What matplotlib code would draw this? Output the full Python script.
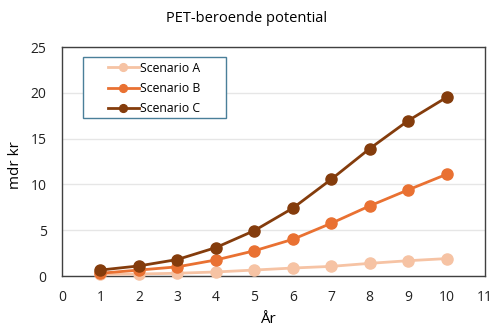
import matplotlib
matplotlib.use("Agg")
import matplotlib.pyplot as plt
from matplotlib.patches import Rectangle

plt.rcParams['font.family'] = ['Open Sans', 'DejaVu Sans']

years = [1, 2, 3, 4, 5, 6, 7, 8, 9, 10]
scenario_a = [0.18, 0.22, 0.3, 0.44, 0.65, 0.87, 1.05, 1.38, 1.67, 1.9]
scenario_b = [0.3, 0.65, 1.0, 1.75, 2.75, 4.0, 5.75, 7.65, 9.4, 11.1]
scenario_c = [0.65, 1.1, 1.8, 3.1, 4.95, 7.4, 10.55, 13.9, 16.95, 19.5]
labels = ['Scenario A', 'Scenario B', 'Scenario C']
colors = ['#F6C3A4', '#E97132', '#843C0C']

W, H = 493, 327
L, R, T, B = 62, 485, 47, 276
fig = plt.figure(figsize=(W/100, H/100), dpi=100)
ax = fig.add_axes([L/W, 1-B/H, (R-L)/W, (B-T)/H])

def ax_x(px):
    return (px - L) / (R - L)

def ax_y(py):
    return (B - py) / (B - T)

for ys, lab, col in zip([scenario_a, scenario_b, scenario_c], labels, colors):
    ax.plot(years, ys, color=col, lw=2, marker='o', ms=8, label=lab, clip_on=False, zorder=3)

ax.set_xlim(0, 11)
ax.set_ylim(0, 25)
ax.set_xticks(range(0, 12))
ax.set_yticks(range(0, 26, 5))
ax.grid(axis='y', color='#E6E6E6', lw=1)
ax.set_axisbelow(True)
for s in ax.spines.values():
    s.set_color('#404040')
    s.set_linewidth(1)
ax.tick_params(length=0, labelsize=10, colors='#222222')
ax.tick_params(axis='y', pad=11)
ax.tick_params(axis='x', pad=10)
ax.set_xlabel('År', fontsize=11)
ax.set_ylabel('mdr kr', fontsize=11)
ax.xaxis.set_label_coords(ax_x(268), ax_y(312))
ax.yaxis.set_label_coords(ax_x(23), ax_y(165))
fig.text(247/W, 1-18/H, 'PET-beroende potential', ha='center', va='center', fontsize=10.5)

ax.add_patch(Rectangle((ax_x(83), ax_y(118)), ax_x(226) - ax_x(83), ax_y(57) - ax_y(118),
                       transform=ax.transAxes, fill=True, facecolor='white',
                       edgecolor='#4A7F99', lw=1, zorder=4, clip_on=False))
leg = ax.legend(loc='upper left', bbox_to_anchor=(ax_x(108), ax_y(61.5)), fontsize=8.8,
                frameon=False, handlelength=2.5, borderpad=0, borderaxespad=0,
                labelspacing=0.6, handletextpad=0.15, markerscale=0.7)
leg.set_zorder(5)

fig.savefig('out.png', dpi=100)
